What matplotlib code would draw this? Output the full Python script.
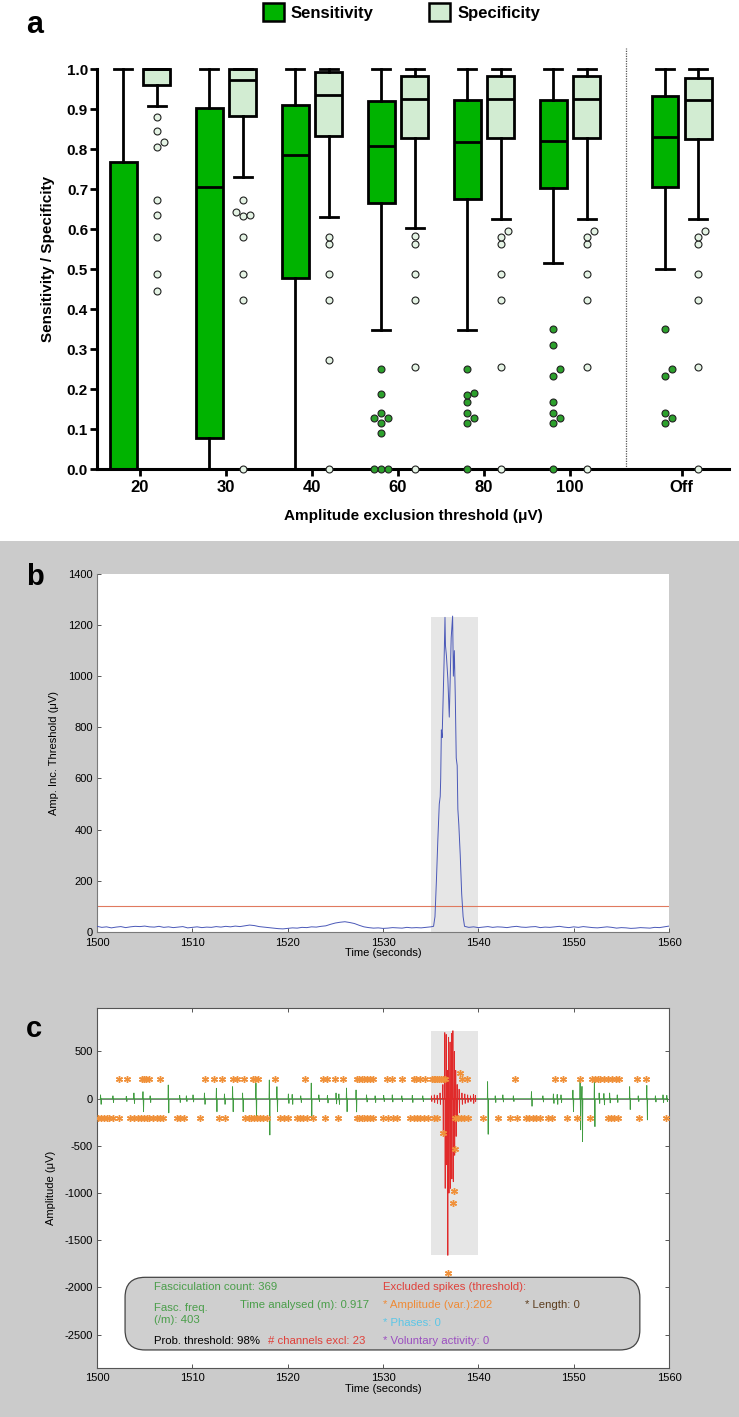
import numpy as np
import matplotlib
matplotlib.use('Agg')
import matplotlib.pyplot as plt
from matplotlib.patches import Patch, Rectangle, FancyBboxPatch

plt.rcParams['font.family'] = ['Liberation Sans', 'DejaVu Sans']
plt.rcParams['axes.unicode_minus'] = False
NARROW = ['Liberation Sans Narrow', 'Liberation Sans', 'DejaVu Sans']

# ---------------- panel a : box plots ----------------
groups = ['20', '30', '40', '60', '80', '100', 'Off']

sens_q1 = [0.0, 0.078, 0.478, 0.666, 0.674, 0.702, 0.704]
sens_med = [0.0, 0.705, 0.784, 0.808, 0.817, 0.821, 0.831]
sens_q3 = [0.767, 0.903, 0.909, 0.919, 0.922, 0.922, 0.933]
sens_lo = [0.0, 0.0, 0.0, 0.348, 0.348, 0.516, 0.499]
sens_hi = [1.0, 1.0, 1.0, 1.0, 1.0, 1.0, 1.0]
sens_out = [[], [], [],
            [0.25, 0.188, 0.14, 0.127, 0.127, 0.116, 0.09, 0.0, 0.0, 0.0],
            [0.25, 0.19, 0.186, 0.168, 0.141, 0.127, 0.116, 0.0],
            [0.349, 0.311, 0.249, 0.233, 0.168, 0.141, 0.127, 0.116, 0.0],
            [0.349, 0.249, 0.233, 0.141, 0.127, 0.116]]

spec_q1 = [0.96, 0.882, 0.833, 0.827, 0.827, 0.827, 0.825]
spec_med = [1.0, 0.972, 0.934, 0.925, 0.925, 0.925, 0.922]
spec_q3 = [1.0, 1.0, 0.993, 0.983, 0.983, 0.983, 0.978]
spec_lo = [0.908, 0.729, 0.63, 0.602, 0.625, 0.625, 0.625]
spec_hi = [1.0, 1.0, 1.0, 1.0, 1.0, 1.0, 1.0]
spec_out = [[0.88, 0.845, 0.817, 0.805, 0.673, 0.635, 0.58, 0.488, 0.445],
            [0.673, 0.643, 0.633, 0.636, 0.58, 0.488, 0.422, 0.0],
            [0.58, 0.562, 0.488, 0.422, 0.273, 0.0],
            [0.583, 0.562, 0.487, 0.422, 0.256, 0.0],
            [0.595, 0.58, 0.562, 0.487, 0.422, 0.256, 0.0],
            [0.595, 0.58, 0.562, 0.487, 0.422, 0.256, 0.0],
            [0.595, 0.58, 0.562, 0.487, 0.422, 0.256, 0.0]]

# ---------------- panel b : amplitude increment threshold ----------------
b_base1 = [22, 18, 20, 16, 19, 21, 17, 20, 22, 21,
           23, 20, 19, 22, 18, 20, 17, 19, 21, 16,
           18, 20, 17, 19, 18, 21, 19, 22, 20, 23,
           21, 24, 27, 25, 21, 19, 17, 15, 13, 12,
           14, 16, 15, 18, 17, 20, 19, 22, 24, 30,
           35, 38, 40, 37, 33, 26, 20, 17, 15, 16,
           14, 15, 17, 16, 15, 18, 16, 17, 16, 18, 20]
b_spike_t = [1535.3, 1535.45, 1535.6, 1535.75, 1535.9, 1536.0, 1536.05, 1536.12,
             1536.2, 1536.3, 1536.4, 1536.5, 1536.55, 1536.65, 1536.8, 1536.95,
             1537.05, 1537.15, 1537.3, 1537.38, 1537.48, 1537.58, 1537.68, 1537.78,
             1537.85, 1537.95, 1538.1, 1538.25, 1538.4, 1538.55]
b_spike_v = [22, 60, 200, 360, 500, 530, 600, 790, 760, 900, 1050, 1230, 1120, 1080,
             990, 840, 1000, 1150, 1235, 1000, 1100, 920, 680, 650, 480, 420, 300,
             150, 60, 22]
b_base2 = [18, 20, 17, 19, 21, 18, 20, 19, 17, 20,
           22, 19, 18, 20, 21, 17, 19, 18, 20, 22,
           19, 17, 20, 18, 21, 19, 17, 16, 18, 20,
           18, 15, 17, 16, 14, 15, 17, 16, 15, 18,
           17, 20, 23]
b_threshold = 100
excl_start, excl_end = 1535, 1540
b_excl_top = 1230

# ---------------- panel c : EMG trace ----------------
green_t = [1500.4, 1501.7, 1503.1, 1503.9, 1504.85, 1505.6, 1507.5, 1508.7, 1509.4,
           1510.1, 1511.3, 1512.55, 1513.4, 1514.25, 1515.3, 1516.7, 1518.1, 1518.9,
           1520.1, 1520.5, 1521.4, 1522.5, 1523.3, 1524.2, 1525.1, 1525.4, 1526.2,
           1527.2, 1528.3, 1529.2, 1530.1, 1531.0, 1532.0, 1533.1, 1534.2, 1541.0,
           1541.8, 1542.6, 1543.7, 1545.6, 1546.8, 1547.9, 1548.3, 1548.7, 1549.95,
           1550.7, 1550.9, 1552.2, 1552.7, 1553.2, 1553.8, 1554.6, 1555.9, 1556.8,
           1557.7, 1558.6, 1559.4, 1559.8]
green_up = [40, 30, 25, 60, 74, 30, 145, 35, 30, 40, 60, 110, 50, 127, 60, 165, 198,
            127, 50, 45, 30, 165, 40, 35, 60, 50, 112, 92, 40, 30, 35, 40, 30, 35,
            30, 180, 30, 40, 30, 74, 30, 50, 45, 40, 90, 215, 130, 200, 60, 55, 60,
            40, 127, 30, 140, 30, 40, 35]
green_dn = [-60, -40, -30, -50, -138, -40, -150, -40, -30, -35, -60, -138, -60, -138,
            -138, -225, -385, -138, -50, -60, -40, -225, -30, -45, -55, -60, -138,
            -140, -35, -40, -30, -35, -30, -40, -30, -377, -40, -35, -30, -80, -35,
            -50, -60, -40, -138, -330, -455, -296, -50, -65, -45, -40, -115, -30,
            -225, -35, -40, -30]
red_t = [1535.1, 1535.4, 1535.7, 1536.0, 1536.3, 1536.5, 1536.65, 1536.78, 1536.9,
         1537.05, 1537.2, 1537.35, 1537.5, 1537.65, 1537.8, 1538.0, 1538.3, 1538.6,
         1538.9, 1539.2, 1539.5, 1539.7]
red_up = [30, 40, 35, 60, 150, 700, 680, 300, 650, 600, 690, 720, 500, 300, 150, 100,
          60, 50, 40, 30, 45, 35]
red_dn = [-30, -40, -50, -60, -380, -950, -700, -1660, -1000, -950, -850, -880, -600,
          -400, -200, -150, -60, -50, -40, -30, -50, -30]
star_top_t = [1502.28, 1503.15, 1504.7, 1504.9, 1505.1, 1505.4, 1506.64, 1511.36,
              1512.23, 1513.1, 1514.3, 1514.7, 1515.4, 1516.4, 1516.6, 1516.9, 1518.7,
              1521.8, 1523.75, 1524.1, 1525.0, 1525.85, 1527.25, 1527.5, 1527.75,
              1528.0, 1528.3, 1528.6, 1529.0, 1530.4, 1530.9, 1531.97, 1533.2, 1533.5,
              1533.9, 1534.4, 1535.1, 1535.3, 1535.5, 1535.7, 1535.9, 1536.1, 1536.3,
              1536.5, 1538.3, 1538.8, 1543.85, 1548.0, 1548.9, 1550.7, 1551.9, 1552.2,
              1552.5, 1552.8, 1553.2, 1553.6, 1554.0, 1554.4, 1554.8, 1556.6, 1557.55]
star_bot_t = [1500.1, 1500.4, 1500.7, 1501.0, 1501.3, 1501.7, 1502.3, 1503.5, 1503.9,
              1504.3, 1504.6, 1504.9, 1505.2, 1505.5, 1505.9, 1506.3, 1506.6, 1506.9,
              1508.4, 1508.7, 1509.1, 1510.8, 1512.75, 1513.45, 1515.55, 1515.9,
              1516.2, 1516.5, 1516.8, 1517.1, 1517.4, 1517.8, 1519.2, 1519.6, 1520.0,
              1521.0, 1521.3, 1521.6, 1522.0, 1522.7, 1523.9, 1525.3, 1527.25, 1527.5,
              1527.75, 1528.0, 1528.3, 1528.6, 1529.0, 1530.0, 1530.5, 1531.0, 1531.5,
              1532.8, 1533.2, 1533.6, 1533.9, 1534.3, 1534.7, 1535.3, 1535.7, 1537.6,
              1537.9, 1538.2, 1538.5, 1538.9, 1540.45, 1542.1, 1543.3, 1544.1, 1545.05,
              1545.35, 1545.7, 1546.0, 1546.45, 1547.3, 1547.7, 1549.25, 1550.3,
              1551.75, 1553.6, 1553.9, 1554.2, 1554.6, 1556.85, 1559.7]
star_top_v = 205
star_bot_v = -201
star_extra_t = [1538.1, 1536.3, 1537.6, 1537.4, 1537.3, 1536.8]
star_extra_v = [275, -360, -533, -975, -1108, -1843]
c_excl_lo, c_excl_hi = -1656, 720


def swarm(values, center, step=0.08, diam=6.8, sx=86.2, sy=400.0):
    # simple beeswarm: shift a point sideways while it overlaps one already placed
    pts = []
    for v in sorted(values):
        k = 0
        placed = False
        while not placed:
            offs = [0] if k == 0 else [k, -k]
            for o in offs:
                x = center + o * step
                if all(np.hypot((x - px) * sx, (v - py) * sy) >= diam for px, py in pts):
                    pts.append((x, v))
                    placed = True
                    break
            k += 1
    return pts


def spike_path(times, ups, downs, w=0.03):
    xs, ys = [], []
    for t, u, d in zip(times, ups, downs):
        xs += [t - 2 * w, t - w, t + w, t + 2 * w]
        ys += [0, u, d, 0]
    return xs, ys


fig = plt.figure(figsize=(7.39, 14.17), dpi=100)
fig.patches.append(Rectangle((0, 0), 1, 0.6182, transform=fig.transFigure,
                             facecolor='#cbcbcb', edgecolor='none', zorder=-5))

SENS_C = '#00b300'
SPEC_C = '#d2ecd2'

# ---------- a ----------
ax = fig.add_axes([0.1313, 0.6690, 0.8552, 0.2823])
centers = np.array([0, 1, 2, 3, 4, 5, 6.3])
off = 0.194

for q1, med, q3, lo, hi, outs, pos_shift, fc, dot_fc in [
        (sens_q1, sens_med, sens_q3, sens_lo, sens_hi, sens_out, -off, SENS_C, '#2ca02c'),
        (spec_q1, spec_med, spec_q3, spec_lo, spec_hi, spec_out, off, SPEC_C, '#e4f3e4')]:
    stats = [dict(q1=a, med=m, q3=b, whislo=l, whishi=h, fliers=[])
             for a, m, b, l, h in zip(q1, med, q3, lo, hi)]
    art = ax.bxp(stats, positions=centers + pos_shift, widths=0.31, capwidths=0.21,
                 patch_artist=True, showfliers=False, manage_ticks=False,
                 boxprops=dict(facecolor=fc, edgecolor='black', linewidth=2.0),
                 medianprops=dict(color='black', linewidth=2.0),
                 whiskerprops=dict(color='black', linewidth=2.0),
                 capprops=dict(color='black', linewidth=2.0))
    for key in art:
        for a in art[key]:
            a.set_clip_on(False)
    for c, vals in zip(centers + pos_shift, outs):
        pts = swarm(vals, c)
        if pts:
            xs, ys = zip(*pts)
            ax.plot(xs, ys, 'o', ms=5, mfc=dot_fc, mec='#222222', mew=0.8,
                    ls='none', clip_on=False, zorder=4)

ax.plot([5.655, 5.655], [0, 1.053], ls=(0, (1, 1)), color='#555555', lw=0.9,
        clip_on=False)
ax.set_xlim(-0.5, 6.85)
ax.set_ylim(0, 1.0)
ax.set_yticks(np.arange(0, 1.01, 0.1))
ax.set_yticklabels(['%.1f' % v for v in np.arange(0, 1.01, 0.1)],
                   fontsize=11, fontweight='bold')
ax.set_xticks(centers)
ax.set_xticklabels(groups, fontsize=12, fontweight='bold')
for s in ['top', 'right']:
    ax.spines[s].set_visible(False)
for s in ['left', 'bottom']:
    ax.spines[s].set_linewidth(2.2)
ax.tick_params(axis='both', width=2.0, length=5, direction='out')
ax.tick_params(axis='y', pad=1.5)
ax.tick_params(axis='x', pad=3)
ax.set_ylabel('Sensitivity / Specificity', fontsize=11, fontweight='bold')
ax.yaxis.set_label_coords(-0.066, 0.525)
ax.set_xlabel('Amplitude exclusion threshold (\u03bcV)', fontsize=11, fontweight='bold')
ax.xaxis.set_label_coords(0.5, -0.1)

handles = [Patch(facecolor=SENS_C, edgecolor='black', linewidth=1.8),
           Patch(facecolor=SPEC_C, edgecolor='black', linewidth=1.8)]
fig.legend(handles, ['Sensitivity', 'Specificity'], loc='center',
           bbox_to_anchor=(0.543, 0.9915), ncol=2, frameon=False,
           prop=dict(size=12, weight='bold'), handlelength=1.3, handleheight=1.3,
           handletextpad=0.4, columnspacing=3.3)

# ---------- b ----------
bx = fig.add_axes([0.1313, 0.3423, 0.774, 0.2527])
b_t = list(np.arange(1500, 1535.01, 0.5)) + b_spike_t + list(np.arange(1539, 1560.01, 0.5))
b_v = b_base1 + b_spike_v + b_base2
bx.fill_between([excl_start, excl_end], 0, b_excl_top, color='#e6e6e6', lw=0, zorder=1)
bx.axhline(b_threshold, color='#e07a5f', lw=0.8, zorder=2)
bx.plot(b_t, b_v, color='#4a58b8', lw=0.7, zorder=3)
bx.set_xlim(1500, 1560)
bx.set_ylim(0, 1400)
bx.set_yticks(np.arange(0, 1401, 200))
bx.set_xticks(np.arange(1500, 1561, 10))
for s in ['top', 'right']:
    bx.spines[s].set_visible(False)
for s in ['left', 'bottom']:
    bx.spines[s].set_color('#7a7a7a')
    bx.spines[s].set_linewidth(0.8)
bx.tick_params(direction='in', length=3, width=0.7, color='#555555', labelsize=8, pad=3)
bx.tick_params(axis='x', pad=4)
for lab in bx.get_xticklabels() + bx.get_yticklabels():
    lab.set_family(NARROW)
bx.set_ylabel('Amp. Inc. Threshold (\u03bcV)', fontsize=8, family=NARROW)
bx.yaxis.set_label_coords(-0.066, 0.5)
bx.set_xlabel('Time (seconds)', fontsize=8, family=NARROW)
bx.xaxis.set_label_coords(0.5, -0.045)

# ---------- c ----------
cx = fig.add_axes([0.1313, 0.0348, 0.774, 0.2538])
cx.fill_between([excl_start, excl_end], c_excl_lo, c_excl_hi, color='#e6e6e6', lw=0, zorder=1)
cx.axhline(0, color='#6a6a6a', lw=0.6, zorder=2)
gx, gy = spike_path(green_t, green_up, green_dn)
cx.plot(gx, gy, color='#3f9c3f', lw=0.6, zorder=3)
rx, ry = spike_path(red_t, red_up, red_dn, w=0.02)
cx.plot(rx, ry, color='#e02a2a', lw=0.6, zorder=4)
star_kw = dict(marker=(6, 2, 0), ls='none', ms=5, color='#f0913a', mew=1.0, zorder=5)
cx.plot(star_top_t, [star_top_v] * len(star_top_t), **star_kw)
cx.plot(star_bot_t, [star_bot_v] * len(star_bot_t), **star_kw)
cx.plot(star_extra_t, star_extra_v, **star_kw)

box = FancyBboxPatch((0.049, 0.0493), 0.9, 0.202,
                     boxstyle='round,pad=0,rounding_size=0.035',
                     mutation_aspect=572 / 360, transform=cx.transAxes,
                     facecolor='#cfcfcf', edgecolor='#444444', lw=0.9, zorder=6)
cx.add_patch(box)
txt = [(1506.0, -1991, 'Fasciculation count: 369', '#4a9e4a'),
       (1529.95, -1991, 'Excluded spikes (threshold):', '#e0403a'),
       (1506.0, -2220, 'Fasc. freq.', '#4a9e4a'),
       (1506.0, -2344, '(/m): 403', '#4a9e4a'),
       (1515.0, -2185, 'Time analysed (m): 0.917', '#4a9e4a'),
       (1529.95, -2185, '* Amplitude (var.):202', '#ef8a35'),
       (1544.9, -2185, '* Length: 0', '#5c3d1e'),
       (1529.95, -2373, '* Phases: 0', '#5cc6e6'),
       (1506.0, -2563, 'Prob. threshold: 98%', 'black'),
       (1517.9, -2563, '# channels excl: 23', '#e0403a'),
       (1529.95, -2563, '* Voluntary activity: 0', '#9b4fc0')]
for x, y, s, col in txt:
    cx.text(x, y, s, color=col, fontsize=8.2, family=NARROW, ha='left', va='center',
            zorder=7)

cx.set_xlim(1500, 1560)
cx.set_ylim(-2850, 960)
cx.set_yticks(np.arange(-2500, 501, 500))
cx.set_xticks(np.arange(1500, 1561, 10))
for s in cx.spines.values():
    s.set_color('#555555')
    s.set_linewidth(0.8)
cx.tick_params(direction='in', length=3, width=0.7, color='#555555', labelsize=8,
               pad=3, top=True, right=True)
cx.tick_params(axis='x', pad=4)
for lab in cx.get_xticklabels() + cx.get_yticklabels():
    lab.set_family(NARROW)
cx.set_ylabel('Amplitude (\u03bcV)', fontsize=8, family=NARROW)
cx.yaxis.set_label_coords(-0.071, 0.5)
cx.set_xlabel('Time (seconds)', fontsize=8, family=NARROW)
cx.xaxis.set_label_coords(0.5, -0.045)

# panel letters
fig.text(35 / 739, 1 - 25 / 1417, 'a', fontsize=22, fontweight='bold', ha='center', va='center')
fig.text(35 / 739, 1 - 577 / 1417, 'b', fontsize=21, fontweight='bold', ha='center', va='center')
fig.text(34 / 739, 1 - 1029 / 1417, 'c', fontsize=21, fontweight='bold', ha='center', va='center')

fig.savefig('out.png', dpi=100)
